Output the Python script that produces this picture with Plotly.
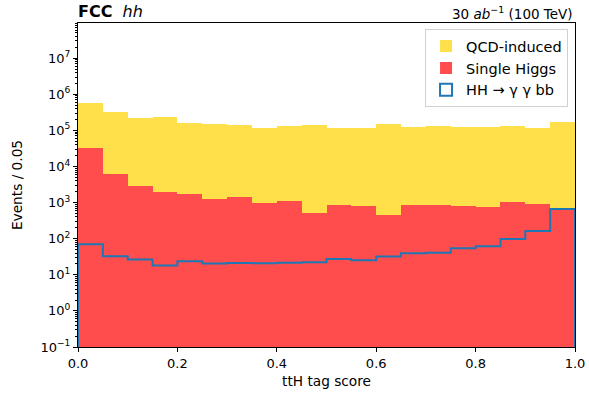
import plotly.graph_objects as go

# Bin edges (ttH tag score), 20 bins of width 0.05
bin_edges = [round(i * 0.05, 2) for i in range(21)]

qcd_induced = [5.6e5, 3.2e5, 2.25e5, 2.3e5, 1.6e5, 1.5e5, 1.4e5, 1.17e5, 1.35e5, 1.45e5,
               1.17e5, 1.17e5, 1.5e5, 1.22e5, 1.32e5, 1.22e5, 1.27e5, 1.35e5, 1.13e5, 1.7e5]
single_higgs = [3.2e4, 6.1e3, 2.8e3, 1.95e3, 1.7e3, 1.26e3, 1.4e3, 9.5e2, 1.1e3, 5.3e2,
                8.7e2, 8.3e2, 4.6e2, 8.4e2, 8.4e2, 8.0e2, 7.5e2, 1.04e3, 9.4e2, 7.2e2]
hh_signal = [70, 32.5, 26.5, 18, 23.7, 20.4, 21.2, 21, 21.5, 22.2,
             27.4, 25.2, 31.9, 39.4, 41, 54, 61.5, 98, 163, 660]

y_exponents = [-1, 0, 1, 2, 3, 4, 5, 6, 7]
x_tick_vals = [0.0, 0.2, 0.4, 0.6, 0.8, 1.0]
x_tick_text = ["0.0", "0.2", "0.4", "0.6", "0.8", "1.0"]

y_tick_vals = [10.0 ** k for k in y_exponents]
y_tick_text = ["10<sup>%s</sup>" % (str(k).replace("-", "−")) for k in y_exponents]
y_minor_vals = [m * 10.0 ** k for k in range(-1, 8) for m in range(2, 10)]

centers = [(a + b) / 2 for a, b in zip(bin_edges[:-1], bin_edges[1:])]
widths = [b - a for a, b in zip(bin_edges[:-1], bin_edges[1:])]

FONT = "DejaVu Sans"
YELLOW = "#FFE04B"
RED = "#FF4D4D"
BLUE = "#1F77B4"

fig = go.Figure()
fig.add_trace(go.Bar(x=centers, y=qcd_induced, width=widths, name="QCD-induced",
                     marker=dict(color=YELLOW, line=dict(width=0))))
fig.add_trace(go.Bar(x=centers, y=single_higgs, width=widths, name="Single Higgs",
                     marker=dict(color=RED, line=dict(width=0))))

# step outline for HH signal
floor = 1e-3
sx = [bin_edges[0]] + bin_edges[:-1] + [bin_edges[-1], bin_edges[-1]]
sy = [floor] + hh_signal + [hh_signal[-1], floor]
fig.add_trace(go.Scatter(x=sx, y=sy, mode="lines", line=dict(color=BLUE, width=2, shape="hv"),
                         showlegend=False, hoverinfo="skip"))
# legend proxy: outlined box
fig.add_trace(go.Bar(x=[None], y=[None], name="HH → γ γ bb", showlegend=True,
                     marker=dict(color="white", line=dict(color=BLUE, width=2))))

fig.update_layout(
    width=589, height=398,
    margin=dict(l=78, r=14, t=23, b=51, autoexpand=False),
    paper_bgcolor="white", plot_bgcolor="white",
    barmode="overlay", bargap=0,
    font=dict(family=FONT, size=13, color="black"),
    showlegend=True,
    legend=dict(x=0.986, y=0.981, xanchor="right", yanchor="top",
                bgcolor="rgba(255,255,255,0.85)", bordercolor="#d0d0d0", borderwidth=1,
                font=dict(size=14.5), tracegroupgap=0, itemwidth=30),
)
fig.update_xaxes(range=[0, 1], tickvals=x_tick_vals, ticktext=x_tick_text, automargin=False,
                 showline=True, mirror=True, linecolor="black", linewidth=1,
                 ticks="outside", ticklen=4, tickcolor="black", showgrid=False, zeroline=False,
                 title=dict(text="ttH tag score", font=dict(size=13.7), standoff=6),
                 tickfont=dict(size=13))
fig.update_yaxes(type="log", range=[-1, 7.975], tickvals=y_tick_vals, ticktext=y_tick_text,
                 automargin=False,
                 showline=True, mirror=True, linecolor="black", linewidth=1,
                 ticks="outside", ticklen=4, tickcolor="black", showgrid=False, zeroline=False,
                 minor=dict(ticks="outside", ticklen=2, tickcolor="black", tickvals=y_minor_vals,
                            showgrid=False),
                 title=dict(text="Events / 0.05", font=dict(size=13.7), standoff=14),
                 tickfont=dict(size=13))

fig.add_annotation(x=0, y=1, xref="paper", yref="paper", xanchor="left", yanchor="bottom",
                   text="<b>FCC</b>  <i>hh</i>", showarrow=False, font=dict(size=16), yshift=0,
                   xshift=-2)
fig.add_annotation(x=1, y=1, xref="paper", yref="paper", xanchor="right", yanchor="bottom",
                   text="30 <i>ab</i><sup>−1</sup> (100 TeV)", showarrow=False, font=dict(size=13.5),
                   yshift=-1)

# remove the default page margin so the figure sits at the window's top-left corner
fig.write_html("out.html", config={"displayModeBar": False},
               post_script="document.body.style.margin='0';")
